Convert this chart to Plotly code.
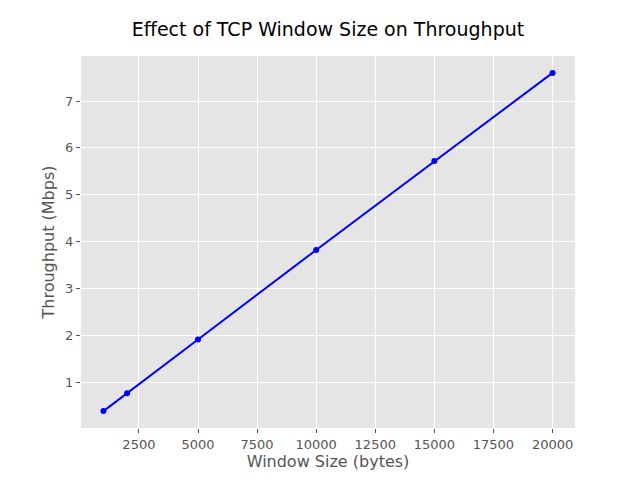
import plotly.graph_objects as go

window_sizes = [1000, 2000, 5000, 10000, 15000, 20000]
throughput = [0.38, 0.76, 1.91, 3.82, 5.72, 7.60]
x_ticks = [2500, 5000, 7500, 10000, 12500, 15000, 17500, 20000]
x_tick_labels = [str(v) for v in x_ticks]
y_ticks = [1, 2, 3, 4, 5, 6, 7]

fig = go.Figure(go.Scatter(x=window_sizes, y=throughput, mode="lines+markers",
                           line=dict(color="blue", width=2),
                           marker=dict(color="blue", size=6)))
axis_common = dict(showgrid=True, gridcolor="white", gridwidth=1, zeroline=False,
                   ticks="outside", ticklen=4, tickcolor="#555555",
                   tickfont=dict(size=13, color="#555555"), showline=False)
fig.update_layout(
    width=640, height=480,
    margin=dict(l=73, r=73, t=48, b=60),
    paper_bgcolor="white", plot_bgcolor="#E5E5E5",
    font=dict(family="DejaVu Sans"),
    showlegend=False,
    title=dict(text="Effect of TCP Window Size on Throughput", x=0.5, xanchor="center",
               y=0.97, yanchor="top", font=dict(size=19, color="black")),
    xaxis=dict(range=[50, 20950], tickvals=x_ticks, ticktext=x_tick_labels,
               title=dict(text="Window Size (bytes)", font=dict(size=16, color="#555555"), standoff=4),
               **axis_common),
    yaxis=dict(range=[0.019, 7.961], tickvals=y_ticks,
               title=dict(text="Throughput (Mbps)", font=dict(size=16, color="#555555"), standoff=6),
               **axis_common),
)
fig.write_html("out.html")
